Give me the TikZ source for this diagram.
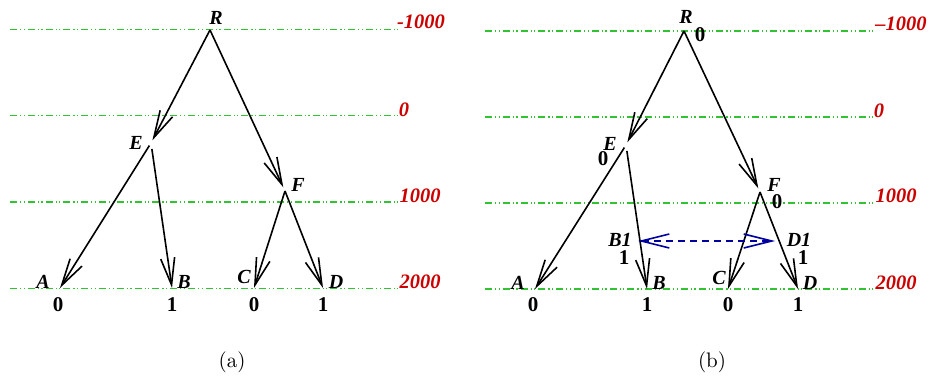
\documentclass[tikz,border=0pt]{standalone}
\usepackage{fontspec}
\newfontfamily\lblfont{Liberation Serif}
\newfontfamily\capfont{lmroman10-regular}[Extension=.otf]
\usetikzlibrary{arrows.meta}
\definecolor{gridgreen}{RGB}{50,195,50}
\definecolor{levred}{RGB}{205,0,0}
\definecolor{navy}{RGB}{0,0,160}
\tikzset{
  gridline/.style={gridgreen, line width=1.3pt, dash pattern=on 7pt off 3pt on 1.2pt off 2.4pt on 1.2pt off 3pt},
  edge/.style={black, line width=1.6pt, -{Straight Barb[length=27pt,width=14pt,line width=1.6pt]}},
  dasharrow/.style={navy, line width=1.6pt, dash pattern=on 7pt off 5pt, {Straight Barb[length=28pt,width=14pt,line width=1.6pt]}-{Straight Barb[length=28pt,width=14pt,line width=1.6pt]}},
  lbl/.style={inner sep=0pt, font=\lblfont\fontsize{20}{21}\selectfont\bfseries\itshape},
  val/.style={inner sep=0pt, font=\lblfont\fontsize{21}{22}\selectfont\bfseries},
  lev/.style={inner sep=0pt, text=levred, font=\lblfont\fontsize{20.5}{22}\selectfont\bfseries\itshape},
  captext/.style={inner sep=0pt, font=\capfont\fontsize{21}{24}\selectfont}
}
\begin{document}
\begin{tikzpicture}[x=1pt,y=-1pt]
\useasboundingbox (0,0) rectangle (931,377);
% ---------------- panel (a) ----------------
\draw[gridline] (10,29.5) -- (398,29.5);
\draw[gridline] (10,115.5) -- (398,115.5);
\draw[gridline] (10,202) -- (398,202);
\draw[gridline] (10,288.5) -- (398,288.5);
\node[lev] (aL1) at (421,22) {-1000};
\node[lev] (aL2) at (404,110) {0};
\node[lev] (aL3) at (420,196) {1000};
\node[lev] (aL4) at (420,282) {2000};
\coordinate (aR) at (210,30);
\coordinate (aE) at (151,143);
\coordinate (aF) at (285,191);
\coordinate (aA) at (60,288);
\coordinate (aB) at (172,288);
\coordinate (aC) at (254,288);
\coordinate (aD) at (323,288);
\draw[edge, shorten >=3pt] (aR) -- (aE);
\draw[edge, shorten >=4pt] (aR) -- (aF);
\draw[edge, shorten <=3pt] (aE) -- (aA);
\draw[edge, shorten <=6pt] (aE) -- (aB);
\draw[edge] (aF) -- (aC);
\draw[edge] (aF) -- (aD);
\node[lbl] (aRl) at (216,18) {R};
\node[lbl] (aEl) at (136,143) {E};
\node[lbl] (aFl) at (298,185) {F};
\node[lbl] (aAl) at (43,282) {A};
\node[lbl] (aBl) at (184,282) {B};
\node[lbl] (aCl) at (244,277) {C};
\node[lbl] (aDl) at (336,282) {D};
\node[val] (aAv) at (58,305) {0};
\node[val] (aBv) at (172,305) {1};
\node[val] (aCv) at (254,305) {0};
\node[val] (aDv) at (323,305) {1};
\node[captext] (capa) at (232,362.5) {(a)};
% ---------------- panel (b) ----------------
\draw[gridline] (485,31) -- (873,31);
\draw[gridline] (485,117) -- (873,117);
\draw[gridline] (485,203) -- (873,203);
\draw[gridline] (485,289) -- (873,289);
\node[lev] (bL1) at (901,24) {\textendash1000};
\node[lev] (bL2) at (879,111) {0};
\node[lev] (bL3) at (896,196) {1000};
\node[lev] (bL4) at (896,283) {2000};
\coordinate (bR) at (684,31);
\coordinate (bE) at (626,145);
\coordinate (bF) at (760,192);
\coordinate (bA) at (535,289);
\coordinate (bB) at (647,289);
\coordinate (bC) at (728,289);
\coordinate (bD) at (798,289);
\coordinate (bB1) at (638,241);
\coordinate (bD1) at (775,241);
\draw[edge, shorten >=3pt] (bR) -- (bE);
\draw[edge, shorten >=4pt] (bR) -- (bF);
\draw[edge, shorten <=3pt] (bE) -- (bA);
\draw[edge, shorten <=6pt] (bE) -- (bB);
\draw[edge] (bF) -- (bC);
\draw[edge] (bF) -- (bD);
\draw[dasharrow] (bB1) -- (bD1);
\node[lbl] (bRl) at (686,17) {R};
\node[lbl] (bEl) at (610,144) {E};
\node[lbl] (bFl) at (774,185) {F};
\node[lbl] (bAl) at (518,283) {A};
\node[lbl] (bBl) at (659,283) {B};
\node[lbl] (bCl) at (719,278) {C};
\node[lbl] (bDl) at (810,283) {D};
\node[lbl] (bB1l) at (620,239.5) {B1};
\node[lbl] (bD1l) at (799,239.5) {D1};
\node[val] (bRv) at (700,35) {0};
\node[val] (bEv) at (603,159) {0};
\node[val] (bFv) at (777,202) {0};
\node[val] (bB1v) at (624,257.5) {1};
\node[val] (bD1v) at (803,257.5) {1};
\node[val] (bAv) at (533,305) {0};
\node[val] (bBv) at (647,305) {1};
\node[val] (bCv) at (728,305) {0};
\node[val] (bDv) at (798,305) {1};
\node[captext] (capb) at (712,362.5) {(b)};
\end{tikzpicture}
\end{document}
